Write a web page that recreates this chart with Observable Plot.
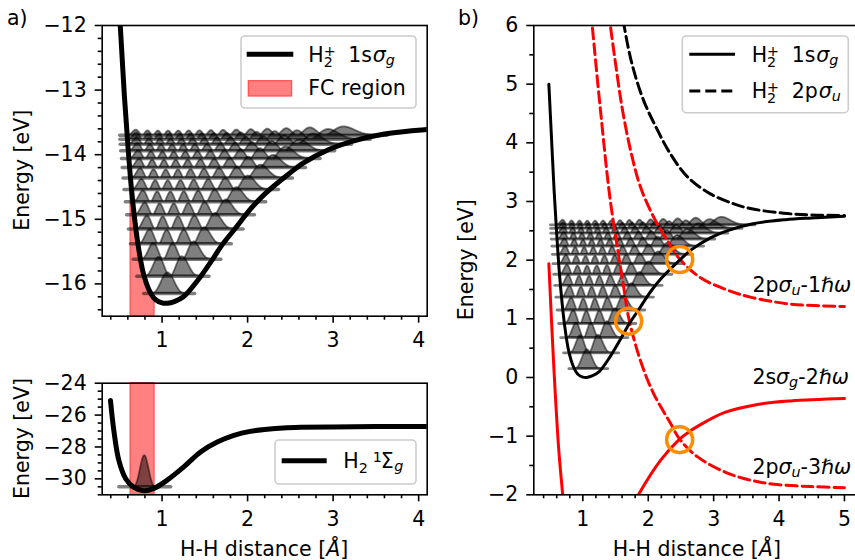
<!DOCTYPE html>
<html>
<head>
<meta charset="utf-8">
<script src="https://cdn.jsdelivr.net/npm/d3@7"></script>
<script src="https://cdn.jsdelivr.net/npm/@observablehq/plot@0.6"></script>
<style>
html, body { margin: 0; padding: 0; background: #fff; }
#wrap { position: relative; width: 855px; height: 560px; overflow: hidden; font-family: "DejaVu Sans", sans-serif; }
#wrap svg.pp text { font-size: 20.5px !important; font-family: "DejaVu Sans", sans-serif !important; fill: black; }
</style>
</head>
<body>
<div id="wrap"></div>
<script>
// ---------------- data ----------------
// H2+ 1s sigma_g potential, relative energy (eV) vs H-H distance (Å)
const ionR = [0.48,0.52,0.56,0.60,0.64,0.68,0.72,0.78,0.85,0.92,1.00,1.06,1.15,1.25,1.42,1.60,1.70,1.85,2.04,2.20,2.48,2.65,2.95,3.20,3.60,4.10,4.50,5.00];
const ionE = [5.00,4.10,3.20,2.45,1.80,1.30,0.90,0.47,0.20,0.06,0.005,0.00,0.03,0.10,0.36,0.70,0.90,1.15,1.47,1.69,2.00,2.17,2.38,2.50,2.62,2.69,2.72,2.75];
const ionMin = -16.3; // absolute energy of the 1s sigma_g minimum (panel a)

// H2+ vibrational levels (relative eV) and drawn peak heights (eV)
const ionLevels = [0.15,0.42,0.68,0.92,1.15,1.37,1.57,1.76,1.94,2.10,2.24,2.36,2.46,2.54,2.60];
const levelHeights = [0.32,0.30,0.27,0.25,0.24,0.23,0.22,0.21,0.20,0.19,0.18,0.17,0.16,0.15,0.13];

// H2 1Sigma_g ground state potential (absolute eV)
const h2R = [0.397,0.436,0.494,0.573,0.67,0.787,0.904,1.06,1.254,1.45,1.645,1.84,2.03,2.23,2.42,2.62,3.0,3.5,4.1];
const h2E = [-25.08,-26.96,-28.83,-29.98,-30.54,-30.75,-30.6,-30.08,-29.25,-28.31,-27.69,-27.27,-27.02,-26.89,-26.81,-26.77,-26.74,-26.72,-26.71];
const h2Levels = [-30.5];
const h2Heights = [1.95];

// Franck-Condon region (Å)
const fcRange = [0.632, 0.912];

// H2+ 2p sigma_u (black dashed), relative eV
const puR = [1.58,1.63,1.75,1.93,2.14,2.34,2.60,2.95,3.31,3.56,4.07,4.50,5.00];
const puE = [6.35,6.00,5.35,4.72,4.22,3.81,3.42,3.13,2.96,2.88,2.80,2.77,2.76];
// 2p sigma_u - 1 hbar omega (red dashed)
const pu1R = [1.36,1.42,1.50,1.60,1.73,1.88,2.085,2.29,2.48,2.80,3.21,3.56,4.18,5.00];
const pu1E = [6.50,6.00,5.35,4.60,3.87,3.25,2.73,2.34,2.02,1.70,1.49,1.37,1.25,1.21];
// 2p sigma_u - 3 hbar omega (red dashed)
const pu3R = [1.10,1.143,1.27,1.41,1.53,1.63,1.70,1.88,2.08,2.34,2.48,2.75,3.21,3.60,3.92,4.50,5.00];
const pu3E = [6.50,6.00,4.55,3.10,2.20,1.50,1.02,0.29,-0.27,-0.78,-1.05,-1.35,-1.63,-1.76,-1.82,-1.86,-1.88];
// 2s sigma_g - 2 hbar omega (red solid), two visible branches
const sgLeftR = [0.48,0.556,0.632,0.69,0.715];
const sgLeftE = [1.94,0.18,-1.24,-1.98,-2.30];
const sgRightR = [1.78,1.86,2.19,2.48,2.645,2.76,3.16,3.67,4.18,5.00];
const sgRightE = [-2.15,-1.98,-1.41,-1.05,-0.91,-0.83,-0.60,-0.46,-0.40,-0.36];

// crossings (orange circles)
const crossR = [2.48, 1.70, 2.48];
const crossE = [2.01, 0.96, -1.06];

// annotations in panel b
const annLabels = ["2pσu-1ℏω", "2sσg-2ℏω", "2pσu-3ℏω"];
const annR = 3.6;
const annE = [1.57, 0.0, -1.53];

// ticks
const xTicksA = [1, 2, 3, 4];
const yTicksA = [-16, -15, -14, -13, -12];
const yTicksB = [-30, -28, -26, -24];
const xTicksC = [1, 2, 3, 4, 5];
const yTicksC = [-2, -1, 0, 1, 2, 3, 4, 5, 6];

// ---------------- helpers ----------------
const FS = 20.5;
const pts = (R, E, off = 0) => R.map((r, i) => ({x: r, y: E[i] + off}));
function lin(xs, ys) {
  return x => {
    if (x <= xs[0]) return ys[0];
    const n = xs.length;
    if (x >= xs[n - 1]) return ys[n - 1];
    const i = d3.bisectRight(xs, x);
    const t = (x - xs[i - 1]) / (xs[i] - xs[i - 1]);
    return ys[i - 1] + t * (ys[i] - ys[i - 1]);
  };
}
const P0SQ = 0.7;
function buildLevels(R, V, levels, heights, offset, mL, mR) {
  const f = lin(R, V);
  const dx = 0.003;
  const grid = d3.range(R[0], R[R.length - 1], dx);
  const vals = grid.map(f);
  const iMin = d3.minIndex(vals);
  const areas = [], bases = [];
  levels.forEach((E, v) => {
    let i0 = iMin, i1 = iMin;
    while (i0 > 0 && vals[i0 - 1] < E) i0--;
    while (i1 < grid.length - 1 && vals[i1 + 1] < E) i1++;
    const ph = [0];
    for (let i = i0 + 1; i <= i1; i++) ph.push(ph[ph.length - 1] + Math.sqrt(Math.max(E - vals[i], 0)) * dx);
    const tot = ph[ph.length - 1] || 1;
    const amp = ph.map((p, k) => Math.sin((v + 1) * Math.PI * p / tot) ** 2 / Math.sqrt(Math.max(E - vals[i0 + k], 0) + P0SQ));
    const m = d3.max(amp) || 1;
    amp.forEach((a, k) => areas.push({x: grid[i0 + k], y1: E + offset, y2: E + offset + heights[v] * a / m, v}));
    bases.push({x: grid[i0] - mL, y: E + offset, v}, {x: grid[i1] + mR, y: E + offset, v});
  });
  return {areas, bases};
}
const fmt = d => (d < 0 ? "\u2212" + Math.abs(d) : String(d));
function minorTicks(a, b, s, majors) {
  return d3.range(Math.round((b - a) / s) + 1).map(i => +(a + i * s).toFixed(4))
    .filter(t => !majors.some(m => Math.abs(m - t) < 1e-6));
}
const FONT = "DejaVu Sans";
function axes(xMaj, xMin, yMaj, yMin) {
  return [
    Plot.axisX({ticks: xMin, tickSize: 4, tickFormat: () => "", strokeWidth: 1.6, label: null}),
    Plot.axisX({ticks: xMaj, tickSize: 7, tickPadding: 9.5, tickFormat: fmt, strokeWidth: 1.6, label: null, fontSize: FS, fontFamily: FONT}),
    Plot.axisY({ticks: yMin, tickSize: 4, tickFormat: () => "", strokeWidth: 1.6, label: null}),
    Plot.axisY({ticks: yMaj, tickSize: 7, tickPadding: 8.5, tickFormat: fmt, strokeWidth: 1.6, label: null, fontSize: FS, fontFamily: FONT})
  ];
}
const STYLE = `font-family: 'DejaVu Sans', sans-serif; font-size: ${FS}px; background: transparent; color: black; overflow: visible;`;
const wrap = document.getElementById("wrap");
function place(el, left, top) {
  el.classList.add("pp");
  el.style.position = "absolute";
  el.style.left = left + "px";
  el.style.top = top + "px";
  wrap.appendChild(el);
}
const levelArea = (data) => Plot.areaY(data, {x: "x", y1: "y1", y2: "y2", z: "v", fill: "black", fillOpacity: 0.5, stroke: "black", strokeOpacity: 0.5, strokeWidth: 1.8, clip: true});
const levelBase = (data, w) => Plot.line(data, {x: "x", y: "y", z: "v", stroke: "black", strokeOpacity: 0.5, strokeWidth: w, strokeLinecap: "round", clip: true});

// ---------------- panel a (top) ----------------
const levA = buildLevels(ionR, ionE, ionLevels, levelHeights, ionMin, 0.09, 0.1);
const fIon = lin(ionR, ionE);
const fcPts = d3.range(fcRange[0], fcRange[1], 0.004).concat([fcRange[1]]).map(x => ({x, y1: -16.5, y2: fIon(x) + ionMin}));
const plotA = Plot.plot({
  width: 440, height: 360,
  marginLeft: 101.7, marginRight: 13.3, marginTop: 25, marginBottom: 44.3,
  style: STYLE,
  x: {domain: [0.3, 4.1]},
  y: {domain: [-16.5, -12]},
  marks: [
    Plot.areaY(fcPts, {x: "x", y1: "y1", y2: "y2", fill: "#ff8080", stroke: "#ff4d4d", strokeWidth: 1.2, clip: true}),
    levelArea(levA.areas),
    levelBase(levA.bases, 3.5),
    Plot.line(pts(ionR, ionE, ionMin), {x: "x", y: "y", stroke: "black", strokeWidth: 5, curve: "catmull-rom", clip: true}),
    ...axes(xTicksA, minorTicks(0.4, 4.0, 0.2, xTicksA), yTicksA, minorTicks(-16.4, -12, 0.2, yTicksA)),
    Plot.frame({stroke: "black", strokeWidth: 1.6})
  ]
});
place(plotA, 0, 0);

// ---------------- panel a (bottom) ----------------
const levB = buildLevels(h2R, h2E, h2Levels, h2Heights, 0, 0.17, 0.17);
const plotB = Plot.plot({
  width: 440, height: 190,
  marginLeft: 101.7, marginRight: 13.3, marginTop: 12.7, marginBottom: 65.7,
  style: STYLE,
  x: {domain: [0.3, 4.1]},
  y: {domain: [-31, -24]},
  marks: [
    Plot.rect([{x1: fcRange[0], x2: fcRange[1], y1: -31, y2: -24}], {x1: "x1", x2: "x2", y1: "y1", y2: "y2", fill: "#ff8080", stroke: "#ff4d4d", strokeWidth: 1.2}),
    levelArea(levB.areas),
    levelBase(levB.bases, 3.5),
    Plot.line(pts(h2R, h2E), {x: "x", y: "y", stroke: "black", strokeWidth: 5, curve: "catmull-rom", clip: true}),
    ...axes(xTicksA, minorTicks(0.4, 4.0, 0.2, xTicksA), yTicksB, minorTicks(-31, -24, 0.5, yTicksB)),
    Plot.frame({stroke: "black", strokeWidth: 1.6})
  ]
});
place(plotB, 0, 370);

// ---------------- panel b ----------------
const levC = buildLevels(ionR, ionE, ionLevels, levelHeights, 0, 0.09, 0.1);
const dash = "11,5";
const plotC = Plot.plot({
  width: 430, height: 560,
  marginLeft: 93.3, marginRight: 9.7, marginTop: 25, marginBottom: 65.7,
  style: STYLE,
  x: {domain: [0.25, 5.25]},
  y: {domain: [-2, 6]},
  marks: [
    levelArea(levC.areas),
    levelBase(levC.bases, 2.8),
    Plot.line(pts(sgLeftR, sgLeftE), {x: "x", y: "y", stroke: "red", strokeWidth: 3, curve: "catmull-rom", clip: true}),
    Plot.line(pts(sgRightR, sgRightE), {x: "x", y: "y", stroke: "red", strokeWidth: 3, curve: "catmull-rom", clip: true}),
    Plot.line(pts(pu1R, pu1E), {x: "x", y: "y", stroke: "red", strokeWidth: 3, strokeDasharray: dash, curve: "catmull-rom", clip: true}),
    Plot.line(pts(pu3R, pu3E), {x: "x", y: "y", stroke: "red", strokeWidth: 3, strokeDasharray: dash, curve: "catmull-rom", clip: true}),
    Plot.line(pts(puR, puE), {x: "x", y: "y", stroke: "black", strokeWidth: 3, strokeDasharray: dash, curve: "catmull-rom", clip: true}),
    Plot.line(pts(ionR, ionE), {x: "x", y: "y", stroke: "black", strokeWidth: 3, curve: "catmull-rom", clip: true}),
    Plot.dot(pts(crossR, crossE), {x: "x", y: "y", r: 13, stroke: "#ff8c00", strokeWidth: 3.5, fill: "none"}),
    ...axes(xTicksC, minorTicks(0.4, 5.2, 0.2, xTicksC), yTicksC, minorTicks(-2, 6, 0.5, yTicksC)),
    Plot.frame({stroke: "black", strokeWidth: 1.6})
  ]
});
place(plotC, 440, 0);

// ---------------- overlay: labels, legends, annotations ----------------
function rich(x, y, parts) {
  return `<text font-size="${FS}" fill="black">` + parts.map(([t, dx, dy, size, it]) =>
    `<tspan x="${x + dx}" y="${y + dy}" font-size="${size}"${it ? ' font-style="italic"' : ''}>${t}</tspan>`).join("") + `</text>`;
}
const S = 14.3; // script size
const ionLabel = (x, y, state, sub) => rich(x, y, [["H", 0, 0, FS], ["+", 15.4, -6, S], ["2", 15.4, 5, S], [state, 40, 0, FS], ["σ", state === "1s" ? 64.5 : 67, 0, FS, true], [sub, state === "1s" ? 77.5 : 80, 3, S, true]]);
const cx = plotC.scale("x"), cy = plotC.scale("y");
const annParts = [
  [["2p", 0, 0, FS], ["σ", 26, 0, FS, true], ["u", 39, 3, S, true], ["-1", 48.2, 0, FS], ["ℏω", 68.6, 0, FS, true]],
  [["2s", 0, 0, FS], ["σ", 23.7, 0, FS, true], ["g", 36.7, 3, S, true], ["-2", 45.9, 0, FS], ["ℏω", 66.3, 0, FS, true]],
  [["2p", 0, 0, FS], ["σ", 26, 0, FS, true], ["u", 39, 3, S, true], ["-3", 48.2, 0, FS], ["ℏω", 68.6, 0, FS, true]]
];
let ann = "";
annE.forEach((e, i) => {
  const px = 440 + cx.apply(annR);
  const py = cy.apply(e) + 7;
  ann += rich(px, py, annParts[i]);
});
const legendBox = (x, y, w, h) => `<rect x="${x}" y="${y}" width="${w}" height="${h}" rx="4" fill="white" fill-opacity="0.8" stroke="#cccccc" stroke-width="1.6"/>`;
const hhLabel = (x, y) => `<text x="${x}" y="${y}" text-anchor="middle" font-size="${FS}">H-H distance [<tspan font-style="italic">Å</tspan>]</text>`;
const eLabel = (x, y) => `<text transform="translate(${x},${y}) rotate(-90)" text-anchor="middle" font-size="${FS}">Energy [eV]</text>`;

const overlay = `<svg width="855" height="560" style="position:absolute;left:0;top:0;font-family:'DejaVu Sans',sans-serif;">
  <text x="7" y="25" font-size="${FS}">a)</text>
  <text x="458" y="25" font-size="${FS}">b)</text>
  ${eLabel(29, 170.3)}
  ${eLabel(29, 438.5)}
  ${eLabel(472.5, 259.7)}
  ${hhLabel(264.2, 556)}
  ${hhLabel(696.8, 556)}
  ${legendBox(241, 36, 175, 72)}
  <line x1="246.7" x2="293.3" y1="54.3" y2="54.3" stroke="black" stroke-width="5"/>
  ${ionLabel(308.3, 61.6, "1s", "g")}
  <rect x="248.3" y="80.7" width="43.3" height="15.3" fill="#ff8080" stroke="#ff4d4d" stroke-width="1.2"/>
  <text x="308.3" y="95.3" font-size="${FS}">FC region</text>
  ${legendBox(275, 440, 141, 44)}
  <line x1="281.7" x2="326.7" y1="460.7" y2="460.7" stroke="black" stroke-width="5"/>
  ${rich(343.3, 468.3, [["H", 0, 0, FS], ["2", 15.4, 5, S], ["1", 29.5, -6, S], ["Σ", 37.5, 0, FS], ["g", 51, 3, S, true]])}
  ${legendBox(682.3, 36, 166, 76.7)}
  <line x1="689.3" x2="735" y1="54.3" y2="54.3" stroke="black" stroke-width="3"/>
  <line x1="689.3" x2="735" y1="91" y2="91" stroke="black" stroke-width="3" stroke-dasharray="${dash}"/>
  ${ionLabel(751.7, 61.6, "1s", "g")}
  ${ionLabel(751.7, 98.3, "2p", "u")}
  ${ann}
</svg>`;
const holder = document.createElement("div");
holder.innerHTML = overlay;
wrap.appendChild(holder.firstElementChild);
</script>
</body>
</html>
